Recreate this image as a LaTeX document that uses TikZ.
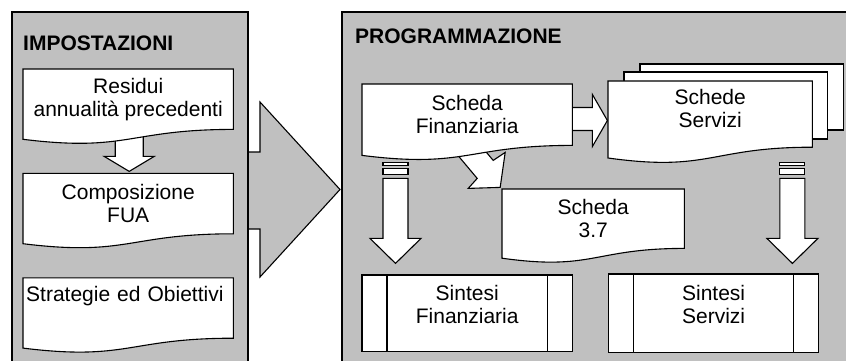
\documentclass[tikz,border=0pt]{standalone}
\usepackage{fontspec}
\setmainfont{Liberation Sans}
\usetikzlibrary{positioning,calc,backgrounds}
\definecolor{panelgray}{RGB}{192,192,192}

\begin{document}
\begin{tikzpicture}[x=1pt, y=-1pt,
  txt/.style={font=\fontsize{21}{23}\selectfont, align=center, inner sep=0pt},
  ttl/.style={font=\fontsize{21}{23}\selectfont\bfseries, inner sep=0pt, anchor=west},
  docbox/.style={txt, minimum width=210pt, minimum height=60pt},
  sheet/.style={draw, fill=white, line width=1.1pt},
  panel/.style={draw, fill=panelgray, line width=1.1pt},
  blk/.style={draw, fill=white, line width=1.1pt, line join=miter}]
\useasboundingbox (0,0) rectangle (846,361);

% titles
\node[ttl] (imp) at (23,43) {IMPOSTAZIONI};
\node[ttl] (prog) at (355,36) {PROGRAMMAZIONE};

% left column
\node[docbox, anchor=north west] (res) at (23,69) {Residui\\annualità precedenti};
\node[docbox, below=44pt of res] (comp) {Composizione\\FUA};
\node[docbox, below=44pt of comp, minimum height=36pt, text width=204pt,
      inner xsep=3pt, align=left] (strat) {Strategie ed Obiettivi};

% right column
\node[docbox, anchor=north west, minimum height=61pt] (scf) at (362,84) {Scheda\\Finanziaria};
\node[docbox, anchor=north west, minimum width=204pt, minimum height=54pt] (sse) at (608,81) {Schede\\Servizi};
\node[docbox, anchor=north west, minimum width=182pt, minimum height=59pt] (s37) at (502,189) {Scheda\\3.7};
\node[docbox, anchor=north west, minimum height=58pt] (sif) at (362,275) {Sintesi\\Finanziaria};
\node[docbox, right=36pt of sif] (sis) {Sintesi\\Servizi};

\begin{scope}[on background layer]
% big arrow, under the left panel
\coordinate (big) at (240,152);
\filldraw[panel] (big) -- ++(20,0) -- ++(0,-50) -- ++(80,87.5) -- ++(-80,87.5)
  -- ++(0,-48) -- ++(-20,0) -- cycle;
\filldraw[panel] (12,12) rectangle (248,370);
\filldraw[panel] (342,12) rectangle (855,370);

% block arrows
\coordinate (a1) at ($(res.south)+(-13,0)$);
\filldraw[blk] (a1) -- ++(0,27) -- ++(-11,0) -- ++(25,15) -- ++(25,-15) -- ++(-11,0) -- ++(0,-27) -- cycle;
\coordinate (a2) at ($(scf.north east)+(-12,23.5)$);
\filldraw[blk] (a2) -- ++(32,0) -- ++(0,-13) -- ++(15,26) -- ++(-15,26) -- ++(0,-16) -- ++(-32,0) -- cycle;
\coordinate (a3) at ($(scf.south)+(-16,2)$);
\filldraw[blk] (a3) -- ++(26,31) -- ++(-9,10) -- ++(32,-1) -- ++(5,-35) -- ++(-12,8) -- ++(-26,-31) -- cycle;
% striped arrows
\coordinate (a4) at ($(scf.south west)+(21,17)$);
\filldraw[blk] (a4) rectangle ++(25,3);
\filldraw[blk] ($(a4)+(0,6)$) rectangle ++(25,6);
\filldraw[blk] ($(a4)+(0,16)$) -- ++(0,60) -- ++(-13,0) -- ++(25.5,25) -- ++(25.5,-25) -- ++(-13,0) -- ++(0,-60) -- cycle;
\coordinate (a5) at ($(sse.south east)+(-32.5,27)$);
\filldraw[blk] (a5) rectangle ++(25,3);
\filldraw[blk] ($(a5)+(0,6)$) rectangle ++(25,6);
\filldraw[blk] ($(a5)+(0,16)$) -- ++(0,60) -- ++(-13,0) -- ++(25.5,25) -- ++(25.5,-25) -- ++(-13,0) -- ++(0,-60) -- cycle;

% pages behind Schede Servizi
\filldraw[sheet] ($(sse.north west)+(32,-17)$) rectangle ($(sse.north east)+(31,49)$);
\filldraw[sheet] ($(sse.north west)+(16,-9)$) rectangle ($(sse.north east)+(15,58)$);

% documents
\filldraw[sheet] (res.north west) -- (res.north east) -- (res.south east)
  .. controls (res.south) and ($(res.south)+(0,22.9)$) .. ($(res.south west)+(0,9.9)$) -- cycle;
\filldraw[sheet] (comp.north west) -- (comp.north east) -- (comp.south east)
  .. controls (comp.south) and ($(comp.south)+(0,22.9)$) .. ($(comp.south west)+(0,9.9)$) -- cycle;
\filldraw[sheet] (strat.north west) -- (strat.north east) -- ($(strat.south east)+(0,24)$)
  .. controls ($(strat.south)+(0,24)$) and ($(strat.south)+(0,46.9)$) .. ($(strat.south west)+(0,33.9)$) -- cycle;
\filldraw[sheet] (scf.north west) -- (scf.north east) -- (scf.south east)
  .. controls (scf.south) and ($(scf.south)+(0,23.2)$) .. ($(scf.south west)+(0,10)$) -- cycle;
\filldraw[sheet] (sse.north west) -- (sse.north east) -- ($(sse.south east)+(0,11.8)$)
  .. controls ($(sse.south)+(0,11.8)$) and ($(sse.south)+(0,36.8)$) .. ($(sse.south west)+(0,22.6)$) -- cycle;
\filldraw[sheet] (s37.north west) -- (s37.north east) -- (s37.south east)
  .. controls (s37.south) and ($(s37.south)+(0,22.6)$) .. ($(s37.south west)+(0,9.8)$) -- cycle;

% process boxes
\filldraw[sheet] (sif.north west) rectangle ($(sif.south east)+(0,18)$);
\draw[sheet] ($(sif.north west)+(25,0)$) -- ($(sif.south west)+(25,18)$);
\draw[sheet] ($(sif.north east)+(-25,0)$) -- ($(sif.south east)+(-25,18)$);
\filldraw[sheet] (sis.north west) rectangle ($(sis.south east)+(0,18)$);
\draw[sheet] ($(sis.north west)+(25,0)$) -- ($(sis.south west)+(25,18)$);
\draw[sheet] ($(sis.north east)+(-25,0)$) -- ($(sis.south east)+(-25,18)$);
\end{scope}
\end{tikzpicture}
\end{document}
